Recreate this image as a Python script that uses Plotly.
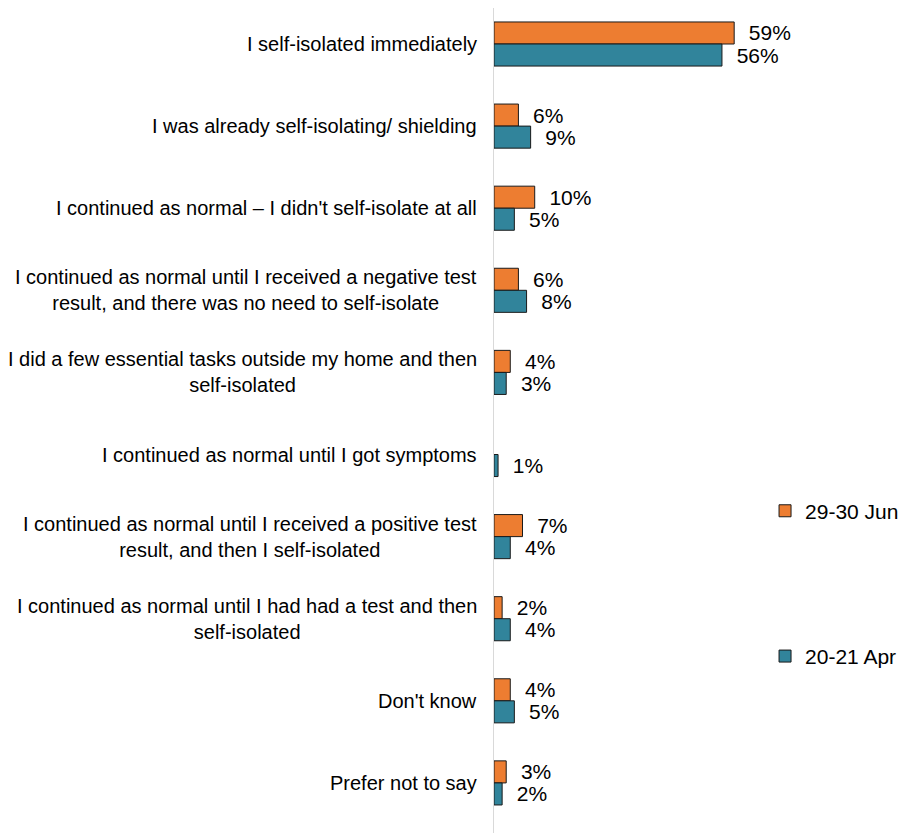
import plotly.graph_objects as go

categories = [
    "I self-isolated immediately",
    "I was already self-isolating/ shielding",
    "I continued as normal \u2013 I didn't self-isolate at all",
    "I continued as normal until I received a negative test<br>result, and there was no need to self-isolate",
    "I did a few essential tasks outside my home and then<br>self-isolated",
    "I continued as normal until I got symptoms",
    "I continued as normal until I received a positive test<br>result, and then I self-isolated",
    "I continued as normal until I had had a test and then<br>self-isolated",
    "Don't know",
    "Prefer not to say",
]
jun_values = [59, 6, 10, 6, 4, None, 7, 2, 4, 3]
apr_values = [56, 9, 5, 8, 3, 1, 4, 4, 5, 2]

FONT = "Liberation Sans, Arial, sans-serif"
ORANGE = "#ED7D31"
TEAL = "#31849B"


def labels(vals):
    return ["" if v is None else f"\u00a0\u00a0{v}%" for v in vals]


fig = go.Figure()
for name, vals, col, grp in [
    ("29-30 Jun", jun_values, ORANGE, "jun"),
    ("20-21 Apr", apr_values, TEAL, "apr"),
]:
    fig.add_trace(go.Bar(
        name=name,
        y=categories,
        x=vals,
        orientation="h",
        legendgroup=grp,
        marker=dict(color=col, line=dict(color="#1a1a1a", width=1)),
        text=labels(vals),
        textposition="outside",
        constraintext="none",
        cliponaxis=False,
        textfont=dict(family=FONT, size=21, color="black"),
        hoverinfo="skip",
    ))

# category labels: lines centred, block right-aligned next to the axis
for c in categories:
    fig.add_annotation(
        x=0, y=c, xref="x", yref="y",
        text=c, showarrow=False,
        xanchor="right", xshift=-15, align="center",
        font=dict(family=FONT, size=20, color="black"),
    )

# page has an 8px body margin, so the figure is sized to fit inside the window
fig.update_layout(
    width=901, height=825,
    margin=dict(l=486, r=139, t=0, b=0),
    plot_bgcolor="white", paper_bgcolor="white",
    barmode="group", bargap=0.463, bargroupgap=0,
    font=dict(family=FONT, size=20, color="black"),
    legend=dict(
        x=0.982, xanchor="left", y=0.415, yanchor="top",
        traceorder="grouped", tracegroupgap=115,
        font=dict(family=FONT, size=21, color="black"),
        bgcolor="rgba(0,0,0,0)",
    ),
)
fig.update_xaxes(range=[0, 67.8], showticklabels=False, showgrid=False,
                 zeroline=False, showline=False)
fig.update_yaxes(range=[9.61, -0.4385], showticklabels=False, showgrid=False,
                 zeroline=False, showline=True, linecolor="#d9d9d9", linewidth=1,
                 ticks="")

fig.write_html("out.html")
